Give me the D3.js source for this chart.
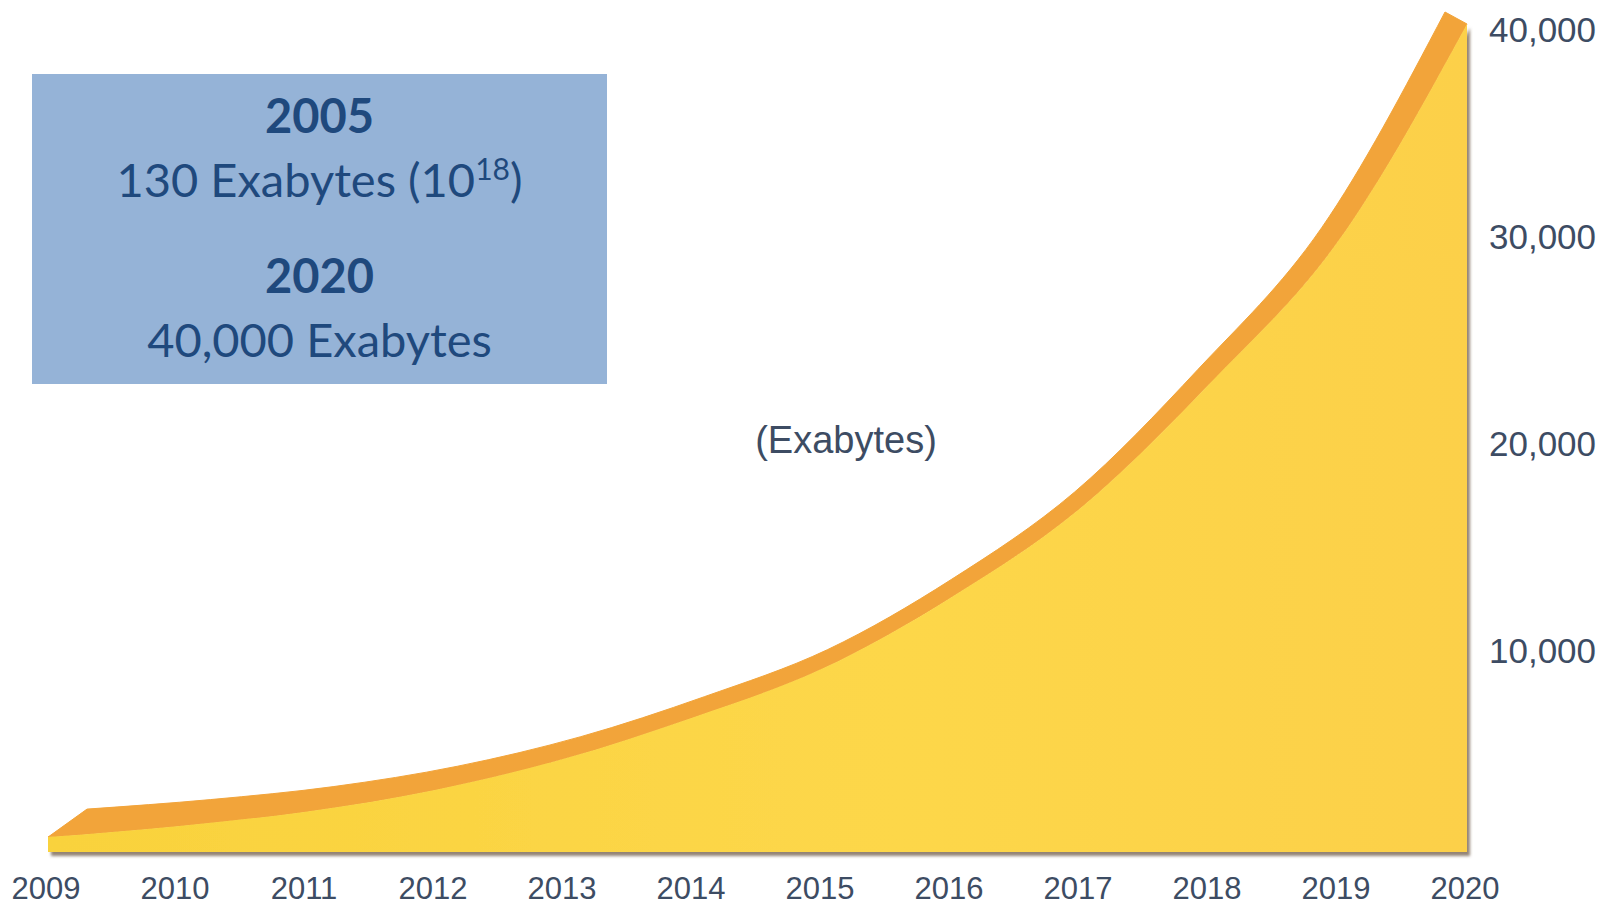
<!DOCTYPE html>
<html>
<head>
<meta charset="utf-8">
<style>
    html, body {
        margin: 0;
        padding: 0;
        background-color: #ffffff;
    }
    svg {
        display: block;
    }
    .axis-label {
        font-family: "Liberation Sans", Arial, sans-serif;
        fill: #3d4c63;
    }
    .box-text {
        font-family: Lato, "Noto Sans", sans-serif;
        fill: #1f497d;
        text-anchor: middle;
    }
</style>
</head>
<body>

<svg id="chart" width="1614" height="907"></svg>

<script src="https://cdn.jsdelivr.net/npm/d3@7"></script>

<script>
    // values (exabytes per year)
    var years = [2009, 2010, 2011, 2012, 2013, 2014, 2015, 2016, 2017, 2018, 2019, 2020];
    var exabytes = [720, 1250, 1950, 3000, 4500, 6500, 8850, 12300, 16600, 22600, 29500, 40000];
    var yTicks = [10000, 20000, 30000, 40000];
    var unitLabel = "(Exabytes)";

    var svg = d3.select("#chart"),
        width = +svg.attr("width"),
        height = +svg.attr("height");

    var x = d3.scaleLinear().domain([2009, 2020]).range([48, 1467]);
    var y = d3.scaleLinear().domain([0, 40000]).range([852, 24]);

    // depth of the 3d top face: leans right at the start, left at the end
    var depthX = d3.scaleLinear().domain([2009, 2020]).range([39, -22]);
    var depthY = d3.scaleLinear().domain([2009, 2020]).range([-28, -12]);

    var points = years.map(function(yr, i) { return {year: yr, value: exabytes[i]}; });

    var defs = svg.append("defs");

    var grad = defs.append("linearGradient")
        .attr("id", "frontFill")
        .attr("x1", "0%").attr("x2", "100%")
        .attr("y1", "0%").attr("y2", "0%");
    grad.append("stop").attr("offset", "0%").attr("stop-color", "#f9d23c");
    grad.append("stop").attr("offset", "60%").attr("stop-color", "#fdd74a");
    grad.append("stop").attr("offset", "100%").attr("stop-color", "#fcd04a");

    var shadow = defs.append("filter")
        .attr("id", "shadow")
        .attr("x", "-5%").attr("y", "-5%")
        .attr("width", "110%").attr("height", "110%");
    shadow.append("feDropShadow")
        .attr("dx", 3).attr("dy", 4)
        .attr("stdDeviation", 1.6)
        .attr("flood-color", "#6e5c46")
        .attr("flood-opacity", 0.75);

    // top face (orange band)
    var topFace = d3.area()
        .curve(d3.curveMonotoneX)
        .x1(function(d) { return x(d.year); })
        .y1(function(d) { return y(d.value); })
        .x0(function(d) { return x(d.year) + depthX(d.year); })
        .y0(function(d) { return y(d.value) + depthY(d.year); });

    svg.append("path")
        .datum(points)
        .attr("d", topFace)
        .attr("fill", "#f2a43a")
        .attr("stroke", "#f2a43a")
        .attr("stroke-width", 1);

    // front face
    var front = d3.area()
        .curve(d3.curveMonotoneX)
        .x(function(d) { return x(d.year); })
        .y0(y(0))
        .y1(function(d) { return y(d.value); });

    svg.append("path")
        .datum(points)
        .attr("d", front)
        .attr("fill", "url(#frontFill)")
        .attr("filter", "url(#shadow)");

    // year labels
    svg.append("g")
        .selectAll("text")
        .data(years)
        .enter().append("text")
        .attr("class", "axis-label")
        .attr("x", function(d) { return x(d) - 2; })
        .attr("y", 899)
        .attr("text-anchor", "middle")
        .attr("font-size", 31)
        .text(function(d) { return d; });

    // value labels on the right
    svg.append("g")
        .selectAll("text")
        .data(yTicks)
        .enter().append("text")
        .attr("class", "axis-label")
        .attr("x", 1489)
        .attr("y", function(d) { return y(d) + 5; })
        .attr("dy", "0.36em")
        .attr("font-size", 35)
        .text(function(d) { return d3.format(",")(d); });

    svg.append("text")
        .attr("class", "axis-label")
        .attr("x", 846)
        .attr("y", 453)
        .attr("text-anchor", "middle")
        .attr("font-size", 38)
        .text(unitLabel);

    // info box
    var box = svg.append("g");
    box.append("rect")
        .attr("x", 32).attr("y", 74)
        .attr("width", 575).attr("height", 310)
        .attr("fill", "#95b3d7");

    var cx = 32 + 575 / 2;
    box.append("text").attr("class", "box-text")
        .attr("x", cx).attr("y", 133)
        .attr("font-size", 47).attr("font-weight", "bold")
        .text("2005");

    var line2 = box.append("text").attr("class", "box-text")
        .attr("x", cx).attr("y", 197)
        .attr("font-size", 47);
    line2.append("tspan").text("130 Exabytes (10");
    line2.append("tspan").attr("font-size", 30).attr("dy", -17).text("18");
    line2.append("tspan").attr("dy", 17).text(")");

    box.append("text").attr("class", "box-text")
        .attr("x", cx).attr("y", 293)
        .attr("font-size", 47).attr("font-weight", "bold")
        .text("2020");

    box.append("text").attr("class", "box-text")
        .attr("x", cx).attr("y", 357)
        .attr("font-size", 47)
        .text("40,000 Exabytes");
</script>
</body>
</html>
